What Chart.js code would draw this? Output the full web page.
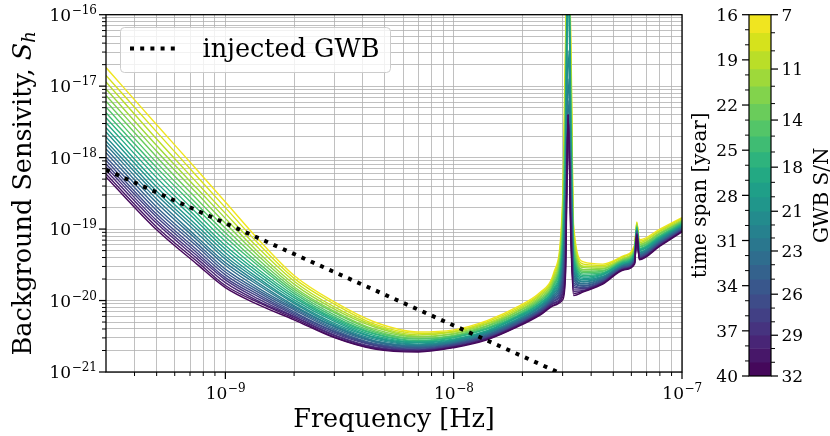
<!DOCTYPE html>
<html>
<head>
<meta charset="utf-8">
<script src="https://cdn.jsdelivr.net/npm/chart.js@4.4.0/dist/chart.umd.min.js"></script>
<style>
  html, body { margin: 0; padding: 0; background: #fff; }
  #wrap { position: relative; width: 830px; height: 436px; }
  #wrap canvas { position: absolute; left: 0; top: 0; }
</style>
</head>
<body>
<div id="wrap">
  <canvas id="main" width="830" height="436"></canvas>
  <canvas id="cbar" width="830" height="436"></canvas>
</div>
<script>
  const SERIF = '"DejaVu Serif", serif';
  const TITLE_PX = 25.5;

  // ============= DATA =============

  // frequency grid [Hz] shared by all sensitivity curves
  const freqs = [3.0e-10, 5.0e-10, 7.5e-10, 1.0e-9, 1.4e-9, 2.0e-9, 3.0e-9, 4.5e-9, 7.0e-9, 1.0e-8,
    1.4e-8, 1.9e-8, 2.4e-8, 2.75e-8, 3.0e-8, 3.09e-8, 3.17e-8, 3.26e-8, 3.35e-8, 3.7e-8,
    4.5e-8, 5.6e-8, 6.2e-8, 6.34e-8, 6.5e-8, 8.0e-8, 1.0e-7];

  // log10 S_h per curve, shortest time span (16 yr, yellow) first, longest (40 yr, purple) last
  const logSh01 = [-16.74, -17.54, -18.17, -18.62, -19.15, -19.65, -20.02, -20.30, -20.44, -20.41, -20.28, -20.09, -19.88, -19.60, -18.59, -16.35, -15, -16.35, -18.94, -19.46, -19.49, -19.37, -19.22, -18.90, -19.15, -19.00, -18.84];
  const logSh02 = [-16.85, -17.64, -18.26, -18.70, -19.21, -19.69, -20.05, -20.33, -20.46, -20.43, -20.30, -20.11, -19.90, -19.63, -18.69, -16.58, -15, -16.54, -19.01, -19.49, -19.51, -19.38, -19.24, -18.91, -19.17, -19.02, -18.85];
  const logSh03 = [-16.94, -17.74, -18.35, -18.78, -19.27, -19.73, -20.09, -20.35, -20.48, -20.44, -20.32, -20.13, -19.92, -19.66, -18.78, -16.79, -15, -16.73, -19.07, -19.52, -19.53, -19.40, -19.26, -18.92, -19.19, -19.03, -18.87];
  const logSh04 = [-17.04, -17.83, -18.43, -18.85, -19.33, -19.77, -20.12, -20.37, -20.50, -20.46, -20.33, -20.15, -19.94, -19.69, -18.86, -16.99, -15, -16.90, -19.13, -19.54, -19.55, -19.41, -19.27, -18.94, -19.21, -19.05, -18.88];
  const logSh05 = [-17.13, -17.91, -18.50, -18.92, -19.38, -19.81, -20.15, -20.40, -20.51, -20.47, -20.35, -20.16, -19.96, -19.72, -18.94, -17.18, -15, -17.06, -19.19, -19.57, -19.56, -19.42, -19.29, -18.95, -19.22, -19.06, -18.89];
  const logSh06 = [-17.21, -17.99, -18.58, -18.99, -19.43, -19.84, -20.17, -20.42, -20.53, -20.49, -20.36, -20.18, -19.98, -19.75, -19.02, -17.36, -15, -17.22, -19.25, -19.59, -19.58, -19.43, -19.30, -18.96, -19.24, -19.07, -18.90];
  const logSh07 = [-17.29, -18.07, -18.65, -19.05, -19.48, -19.87, -20.20, -20.44, -20.54, -20.50, -20.38, -20.19, -20.00, -19.77, -19.09, -17.53, -15, -17.36, -19.30, -19.61, -19.59, -19.44, -19.32, -18.97, -19.25, -19.09, -18.91];
  const logSh08 = [-17.37, -18.14, -18.71, -19.11, -19.52, -19.90, -20.23, -20.46, -20.56, -20.51, -20.39, -20.21, -20.01, -19.79, -19.16, -17.70, -15, -17.50, -19.35, -19.63, -19.61, -19.45, -19.33, -18.97, -19.27, -19.10, -18.92];
  const logSh09 = [-17.44, -18.21, -18.78, -19.17, -19.57, -19.93, -20.25, -20.47, -20.57, -20.52, -20.40, -20.22, -20.03, -19.82, -19.23, -17.86, -15, -17.64, -19.39, -19.65, -19.62, -19.46, -19.34, -18.98, -19.28, -19.11, -18.93];
  const logSh10 = [-17.51, -18.28, -18.84, -19.23, -19.61, -19.96, -20.27, -20.49, -20.58, -20.54, -20.42, -20.23, -20.04, -19.84, -19.30, -18.01, -15, -17.77, -19.44, -19.67, -19.63, -19.47, -19.36, -18.99, -19.29, -19.12, -18.94];
  const logSh11 = [-17.58, -18.35, -18.89, -19.28, -19.65, -19.99, -20.29, -20.51, -20.59, -20.55, -20.43, -20.24, -20.06, -19.86, -19.36, -18.15, -15, -17.89, -19.48, -19.69, -19.64, -19.48, -19.37, -19.00, -19.30, -19.13, -18.95];
  const logSh12 = [-17.64, -18.41, -18.95, -19.33, -19.69, -20.02, -20.32, -20.52, -20.61, -20.56, -20.44, -20.26, -20.07, -19.88, -19.42, -18.29, -15, -18.01, -19.52, -19.71, -19.66, -19.49, -19.38, -19.01, -19.32, -19.14, -18.96];
  const logSh13 = [-17.71, -18.47, -19.00, -19.38, -19.72, -20.04, -20.34, -20.54, -20.62, -20.57, -20.45, -20.27, -20.08, -19.90, -19.47, -18.43, -16.5, -18.12, -19.57, -19.73, -19.67, -19.50, -19.39, -19.01, -19.33, -19.15, -18.97];
  const logSh14 = [-17.77, -18.52, -19.05, -19.42, -19.76, -20.07, -20.36, -20.56, -20.63, -20.58, -20.46, -20.28, -20.09, -19.92, -19.53, -18.55, -16.9, -18.23, -19.60, -19.74, -19.68, -19.50, -19.40, -19.02, -19.34, -19.16, -18.97];
  const logSh15 = [-17.82, -18.58, -19.11, -19.47, -19.79, -20.09, -20.37, -20.57, -20.64, -20.59, -20.47, -20.29, -20.11, -19.93, -19.58, -18.68, -17.2, -18.34, -19.64, -19.76, -19.69, -19.51, -19.41, -19.03, -19.35, -19.17, -18.98];
  const logSh16 = [-17.88, -18.63, -19.15, -19.51, -19.83, -20.11, -20.39, -20.58, -20.65, -20.60, -20.48, -20.30, -20.12, -19.95, -19.63, -18.80, -17.4, -18.44, -19.68, -19.77, -19.70, -19.52, -19.42, -19.03, -19.36, -19.18, -18.99];
  const logSh17 = [-17.93, -18.69, -19.20, -19.56, -19.86, -20.13, -20.41, -20.60, -20.66, -20.61, -20.49, -20.31, -20.13, -19.97, -19.68, -18.92, -17.4, -18.54, -19.71, -19.79, -19.71, -19.53, -19.43, -19.04, -19.37, -19.19, -19.00];
  const logSh18 = [-17.99, -18.74, -19.24, -19.60, -19.89, -20.16, -20.43, -20.61, -20.67, -20.61, -20.50, -20.32, -20.14, -19.98, -19.73, -19.03, -17.4, -18.64, -19.75, -19.80, -19.72, -19.53, -19.44, -19.05, -19.38, -19.20, -19.00];
  const logSh19 = [-18.04, -18.79, -19.29, -19.64, -19.92, -20.18, -20.44, -20.62, -20.68, -20.62, -20.51, -20.33, -20.15, -20.00, -19.78, -19.14, -17.4, -18.73, -19.78, -19.82, -19.73, -19.54, -19.45, -19.05, -19.39, -19.20, -19.01];
  const logSh20 = [-18.09, -18.83, -19.33, -19.68, -19.95, -20.20, -20.46, -20.63, -20.69, -20.63, -20.52, -20.34, -20.16, -20.01, -19.82, -19.25, -17.4, -18.82, -19.81, -19.83, -19.74, -19.55, -19.46, -19.06, -19.40, -19.21, -19.02];
  const logSh21 = [-18.13, -18.88, -19.37, -19.71, -19.98, -20.22, -20.48, -20.65, -20.70, -20.64, -20.53, -20.35, -20.17, -20.03, -19.87, -19.35, -17.4, -18.91, -19.84, -19.84, -19.75, -19.55, -19.47, -19.06, -19.41, -19.22, -19.02];
  const logSh22 = [-18.18, -18.92, -19.41, -19.75, -20.01, -20.23, -20.49, -20.66, -20.70, -20.65, -20.53, -20.35, -20.18, -20.04, -19.91, -19.45, -17.4, -18.99, -19.87, -19.86, -19.75, -19.56, -19.47, -19.07, -19.41, -19.23, -19.03];
  const logSh23 = [-18.23, -18.97, -19.45, -19.79, -20.03, -20.25, -20.51, -20.67, -20.71, -20.65, -20.54, -20.36, -20.19, -20.06, -19.95, -19.55, -17.4, -19.08, -19.90, -19.87, -19.76, -19.56, -19.48, -19.07, -19.42, -19.23, -19.03];
  const logSh24 = [-18.27, -19.01, -19.49, -19.82, -20.06, -20.27, -20.52, -20.68, -20.72, -20.66, -20.55, -20.37, -20.20, -20.07, -19.99, -19.64, -17.4, -19.16, -19.93, -19.88, -19.77, -19.57, -19.49, -19.08, -19.43, -19.24, -19.04];

  const curves = [logSh01, logSh02, logSh03, logSh04, logSh05, logSh06, logSh07, logSh08,
    logSh09, logSh10, logSh11, logSh12, logSh13, logSh14, logSh15, logSh16,
    logSh17, logSh18, logSh19, logSh20, logSh21, logSh22, logSh23, logSh24];

  // injected GWB power law (end points)
  const gwbFreqs = [3.0e-10, 1.0e-7];
  const gwbLogSh = [-18.17, -21.78];

  // colour of each curve / colorbar band, top (16 yr) to bottom (40 yr)
  const bandColors = ['#f0e520', '#d6e21c', '#bade28', '#9ed93a', '#82d34c', '#6acc5b', '#53c568', '#3fbc73',
    '#2eb37d', '#23a983', '#1f9f88', '#20968b', '#238b8d', '#26818e', '#2a778e', '#2f6d8e',
    '#34628d', '#39578c', '#3e4c89', '#424085', '#46337f', '#482576', '#471769', '#45085b'];

  // colorbar: S/N band boundaries and labels, time span ticks
  const snBounds = [7.0, 8.25, 9.5, 10.76, 11.95, 13.15, 14.29, 15.4, 16.5, 17.55, 18.6, 19.6, 20.6,
    21.55, 22.45, 23.35, 24.3, 25.3, 26.34, 27.3, 28.25, 29.18, 30.1, 31.05, 32.0];
  const snLabels = ['7', '11', '14', '18', '21', '23', '26', '29', '32'];
  const spanYears = [16, 17, 18, 19, 20, 21, 22, 23, 24, 25, 26, 27, 28, 29, 30, 31, 32, 33, 34, 35, 36, 37, 38, 39, 40];
  const spanLabels = [16, 19, 22, 25, 28, 31, 34, 37, 40];

  // axis ticks (decade exponents get labels)
  const xDecades = [-9, -8, -7];
  const yDecades = [-21, -20, -19, -18, -17, -16];
  const xMinor = [4e-10, 5e-10, 6e-10, 7e-10, 8e-10, 9e-10, 2e-9, 3e-9, 4e-9, 5e-9, 6e-9, 7e-9, 8e-9, 9e-9,
    2e-8, 3e-8, 4e-8, 5e-8, 6e-8, 7e-8, 8e-8, 9e-8];
  const yMinor = [];
  yDecades.slice(0, -1).forEach(d => { for (let m = 2; m <= 9; m++) yMinor.push(m * Math.pow(10, d)); });

  const xTicks = xMinor.map(v => ({ value: v })).concat(xDecades.map(d => ({ value: Math.pow(10, d), major: true })));
  const yTicks = yMinor.map(v => ({ value: v })).concat(yDecades.map(d => ({ value: Math.pow(10, d), major: true })));

  // ============= HELPERS =============

  function drawPow(ctx, exp, x, y, align) {
    const base = '10';
    const sup = '\u2212' + Math.abs(exp);
    ctx.font = '17px ' + SERIF;
    const wb = ctx.measureText(base).width;
    ctx.font = '12px ' + SERIF;
    const ws = ctx.measureText(sup).width;
    const x0 = align === 'right' ? x - wb - ws : x - (wb + ws) / 2;
    ctx.textAlign = 'left';
    ctx.textBaseline = 'alphabetic';
    ctx.font = '17px ' + SERIF;
    ctx.fillText(base, x0, y);
    ctx.font = '12px ' + SERIF;
    ctx.fillText(sup, x0 + wb + 0.5, y - 7);
  }

  function tick(ctx, x1, y1, x2, y2, w) {
    ctx.lineWidth = w;
    ctx.beginPath();
    ctx.moveTo(x1, y1);
    ctx.lineTo(x2, y2);
    ctx.stroke();
  }

  // ============= MAIN PLOT =============

  const mainDecor = {
    id: 'mainDecor',
    afterDraw(chart) {
      const { ctx, chartArea: a, scales } = chart;
      ctx.save();
      ctx.strokeStyle = '#000';
      ctx.fillStyle = '#000';

      // ticks
      xTicks.forEach(t => {
        const x = scales.x.getPixelForValue(t.value);
        tick(ctx, x, a.bottom, x, a.bottom + (t.major ? 7 : 4), t.major ? 1.25 : 1);
      });
      yTicks.forEach(t => {
        const y = scales.y.getPixelForValue(t.value);
        tick(ctx, a.left, y, a.left - (t.major ? 7 : 4), y, t.major ? 1.25 : 1);
      });
      xDecades.forEach(d => drawPow(ctx, d, scales.x.getPixelForValue(Math.pow(10, d)), a.bottom + 26.5, 'center'));
      yDecades.forEach(d => drawPow(ctx, d, a.left - 9.5, scales.y.getPixelForValue(Math.pow(10, d)) + 6.2, 'right'));

      // frame
      ctx.lineWidth = 1.3;
      ctx.strokeRect(a.left, a.top, a.right - a.left, a.bottom - a.top);

      // axis titles
      ctx.textBaseline = 'alphabetic';
      ctx.textAlign = 'center';
      ctx.font = TITLE_PX + 'px ' + SERIF;
      ctx.fillText('Frequency [Hz]', (a.left + a.right) / 2, 426.5);

      ctx.save();
      ctx.translate(31, (a.top + a.bottom) / 2);
      ctx.rotate(-Math.PI / 2);
      ctx.textAlign = 'left';
      const p1 = 'Background Sensivity, ';
      ctx.font = TITLE_PX + 'px ' + SERIF;
      const w1 = ctx.measureText(p1).width;
      ctx.font = 'italic ' + TITLE_PX + 'px ' + SERIF;
      const w2 = ctx.measureText('S').width;
      ctx.font = 'italic 18px ' + SERIF;
      const w3 = ctx.measureText('h').width;
      const x0 = -(w1 + w2 + w3) / 2;
      ctx.font = TITLE_PX + 'px ' + SERIF;
      ctx.fillText(p1, x0, 0);
      ctx.font = 'italic ' + TITLE_PX + 'px ' + SERIF;
      ctx.fillText('S', x0 + w1, 0);
      ctx.font = 'italic 18px ' + SERIF;
      ctx.fillText('h', x0 + w1 + w2, 4);
      ctx.restore();

      // legend
      const ds = chart.data.datasets[0];
      ctx.fillStyle = 'rgba(255,255,255,0.8)';
      ctx.strokeStyle = '#cccccc';
      ctx.lineWidth = 1;
      ctx.beginPath();
      ctx.roundRect(120.5, 27.5, 270, 45, 4);
      ctx.fill();
      ctx.stroke();
      ctx.strokeStyle = ds.borderColor;
      ctx.lineWidth = ds.borderWidth;
      ctx.setLineDash(ds.borderDash);
      ctx.beginPath();
      ctx.moveTo(130, 48.5);
      ctx.lineTo(180, 48.5);
      ctx.stroke();
      ctx.setLineDash([]);
      ctx.fillStyle = '#000';
      ctx.textAlign = 'left';
      ctx.font = TITLE_PX + 'px ' + SERIF;
      ctx.fillText(ds.label, 202.5, 57.3);
      ctx.restore();
    }
  };

  const datasets = [{
    label: 'injected GWB',
    data: gwbFreqs.map((f, i) => ({ x: f, y: Math.pow(10, gwbLogSh[i]) })),
    borderColor: '#000',
    borderWidth: 4,
    borderDash: [4, 6.2],
    borderCapStyle: 'butt',
    order: 0
  }];
  curves.forEach((c, k) => {
    datasets.push({
      label: 'curve ' + (k + 1),
      data: freqs.map((f, i) => ({ x: f, y: Math.pow(10, c[i]) })),
      borderColor: bandColors[k],
      borderWidth: 1.4,
      cubicInterpolationMode: 'monotone',
      order: curves.length - k
    });
  });

  const gridOpts = { color: '#b0b0b0', lineWidth: 0.8, drawTicks: false };

  new Chart(document.getElementById('main'), {
    type: 'line',
    data: { datasets },
    options: {
      responsive: false,
      animation: false,
      layout: { padding: { top: 14.7, right: 148, left: 0, bottom: 0 } },
      elements: { point: { radius: 0 } },
      plugins: { legend: { display: false }, tooltip: { enabled: false } },
      scales: {
        x: {
          type: 'logarithmic', min: 3e-10, max: 1e-7,
          afterBuildTicks: s => { s.ticks = xTicks.map(t => ({ value: t.value })); },
          afterFit: s => { s.height = 64; },
          ticks: { display: false },
          grid: gridOpts,
          border: { display: false }
        },
        y: {
          type: 'logarithmic', min: 1e-21, max: 1e-16,
          afterBuildTicks: s => { s.ticks = yTicks.map(t => ({ value: t.value })); },
          afterFit: s => { s.width = 106; },
          ticks: { display: false },
          grid: gridOpts,
          border: { display: false }
        }
      }
    },
    plugins: [mainDecor]
  });

  // ============= COLORBAR =============

  const cbarDecor = {
    id: 'cbarDecor',
    afterDraw(chart) {
      const { ctx, chartArea: a, scales } = chart;
      ctx.save();
      ctx.strokeStyle = '#000';
      ctx.fillStyle = '#000';

      spanYears.forEach(v => {
        const y = scales.span.getPixelForValue(v);
        const major = spanLabels.includes(v);
        tick(ctx, a.left, y, a.left - (major ? 7 : 4), y, major ? 1.25 : 1);
        if (major) {
          ctx.font = '17px ' + SERIF;
          ctx.textAlign = 'right';
          ctx.textBaseline = 'alphabetic';
          ctx.fillText(String(v), a.left - 11, y + 6.2);
        }
      });
      snBounds.forEach((v, i) => {
        const y = scales.sn.getPixelForValue(v);
        const major = i % 3 === 0;
        tick(ctx, a.right, y, a.right + (major ? 7 : 4), y, major ? 1.25 : 1);
        if (major) {
          ctx.font = '17px ' + SERIF;
          ctx.textAlign = 'left';
          ctx.textBaseline = 'alphabetic';
          ctx.fillText(snLabels[i / 3], a.right + 10.5, y + 6.2);
        }
      });

      ctx.lineWidth = 1.2;
      ctx.strokeRect(a.left, a.top, a.right - a.left, a.bottom - a.top);

      const mid = (a.top + a.bottom) / 2;
      ctx.font = '20px ' + SERIF;
      ctx.textAlign = 'center';
      ctx.textBaseline = 'alphabetic';
      [['time span [year]', 706], ['GWB S/N', 828]].forEach(([txt, bx]) => {
        ctx.save();
        ctx.translate(bx, mid);
        ctx.rotate(-Math.PI / 2);
        ctx.fillText(txt, 0, 0);
        ctx.restore();
      });
      ctx.restore();
    }
  };

  new Chart(document.getElementById('cbar'), {
    type: 'bar',
    data: {
      labels: ['S/N'],
      datasets: bandColors.map((c, k) => ({
        data: [[snBounds[k], snBounds[k + 1]]],
        backgroundColor: c,
        borderWidth: 0,
        barPercentage: 1,
        categoryPercentage: 1,
        grouped: false,
        yAxisID: 'sn'
      }))
    },
    options: {
      responsive: false,
      animation: false,
      layout: { padding: { top: 14.7, bottom: 60, left: 0, right: 0 } },
      plugins: { legend: { display: false }, tooltip: { enabled: false } },
      scales: {
        x: { display: false },
        sn: {
          type: 'linear', position: 'right', min: 7, max: 32, reverse: true,
          afterFit: s => { s.width = 59; },
          ticks: { display: false }, grid: { display: false }, border: { display: false }
        },
        span: {
          type: 'linear', position: 'left', min: 16, max: 40, reverse: true,
          afterFit: s => { s.width = 749; },
          ticks: { display: false }, grid: { display: false }, border: { display: false }
        }
      }
    },
    plugins: [cbarDecor]
  });
</script>
</body>
</html>
